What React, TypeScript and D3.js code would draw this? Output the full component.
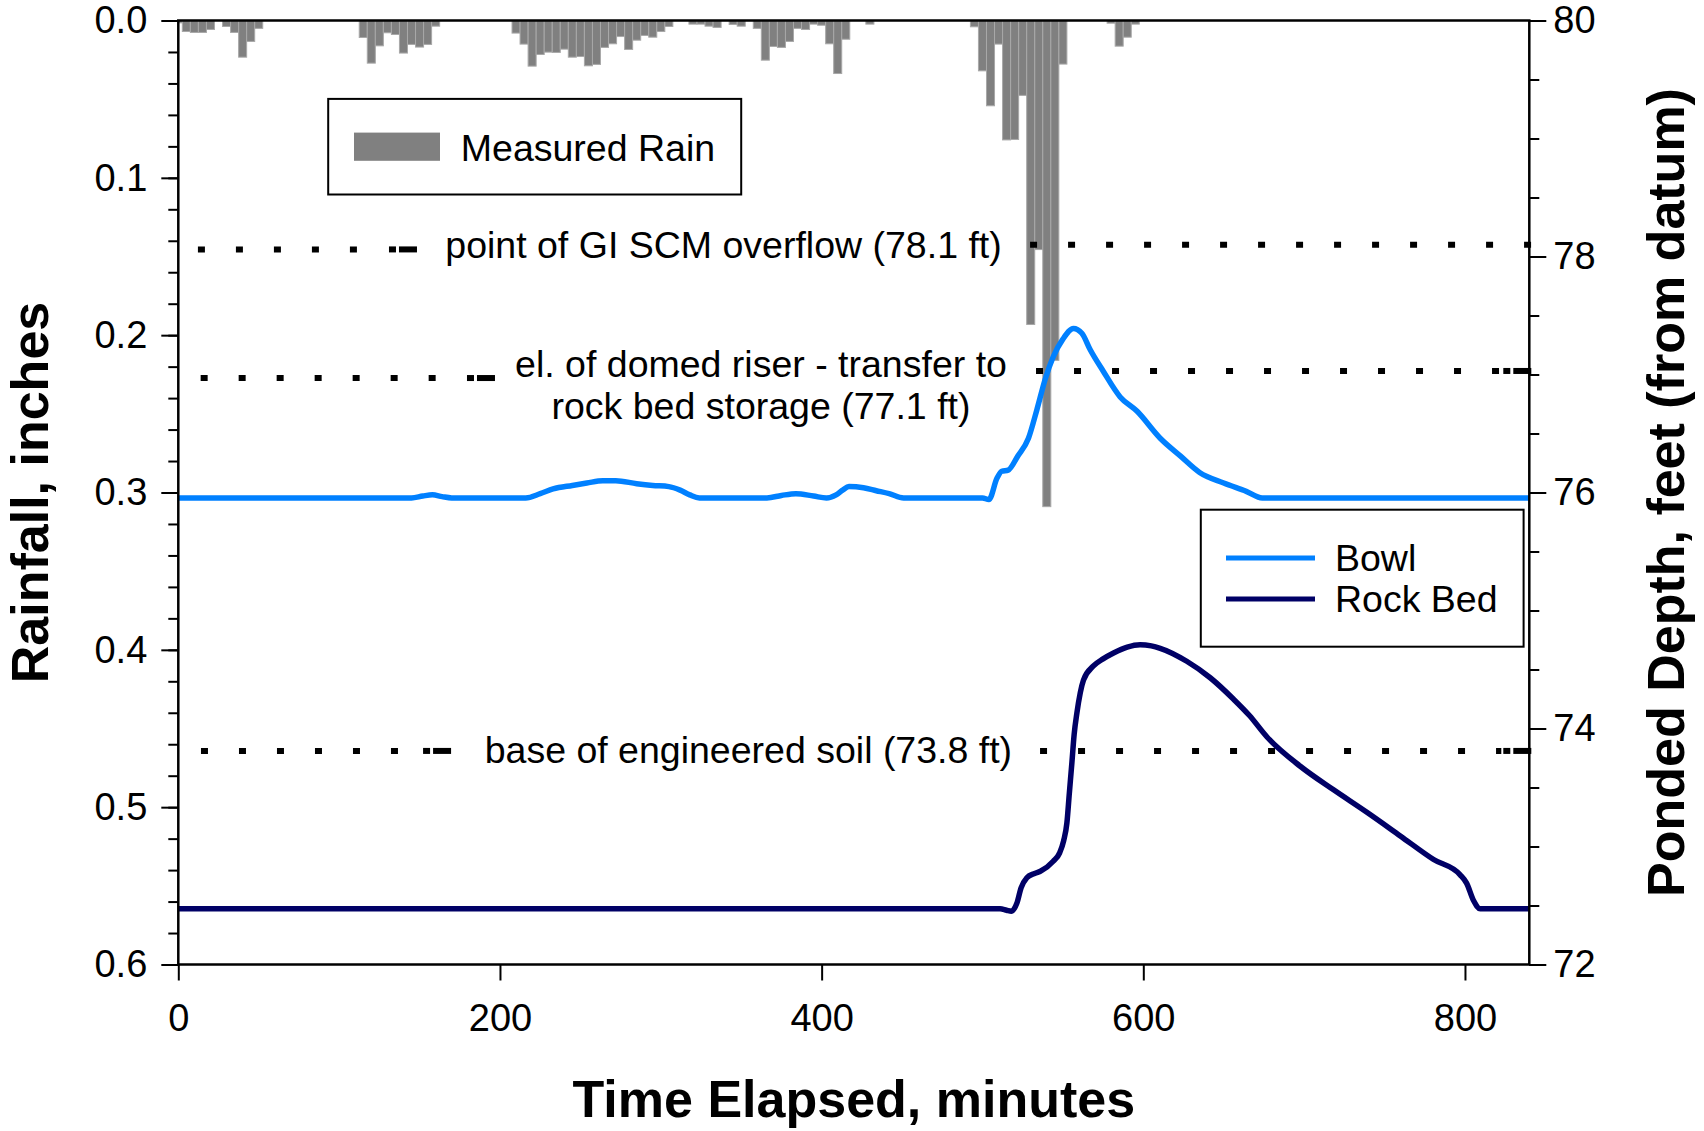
import React, { useEffect, useRef } from 'react';
import * as d3 from 'd3';

// measured rain, 5-minute bins (centre time, inches)
const rainTimes = [0, 5, 10, 15, 20, 30, 35, 40, 45, 50,
  115, 120, 125, 130, 135, 140, 145, 150, 155, 160,
  210, 215, 220, 225, 230, 235, 240, 245, 250, 255, 260, 265, 270, 275, 280, 285, 290, 295, 300, 305,
  320, 325, 330, 335, 345, 350, 360, 365, 370, 375, 380, 385, 390, 395, 400, 405, 410, 415, 430,
  495, 500, 505, 510, 515, 520, 525, 530, 535, 540, 545, 550,
  580, 585, 590, 595];
const rainDepths = [0.0015, 0.007, 0.0076, 0.0076, 0.0057, 0.0038, 0.0076, 0.0233, 0.0133, 0.005,
  0.0108, 0.0271, 0.0161, 0.0078, 0.0089, 0.0207, 0.0152, 0.0169, 0.0152, 0.0036,
  0.008, 0.015, 0.029, 0.0216, 0.0201, 0.0203, 0.0182, 0.0233, 0.0229, 0.0288, 0.0279, 0.0171, 0.0148, 0.0102, 0.0184, 0.0125, 0.0095, 0.0106, 0.007, 0.0038,
  0.0023, 0.0023, 0.0036, 0.0044, 0.0025, 0.0036, 0.005, 0.0252, 0.0165, 0.0171, 0.0133, 0.005, 0.0057, 0.0023, 0.003, 0.0148, 0.0337, 0.0119, 0.0023,
  0.004, 0.032, 0.0542, 0.015, 0.0759, 0.0756, 0.0476, 0.1932, 0.1456, 0.309, 0.216, 0.0277,
  0.0017, 0.0163, 0.0106, 0.0023];

// ponded depth, feet
const bowlTimes = [0, 145, 152, 158, 164, 170, 216, 225, 233, 245, 254, 264, 272, 285, 295, 305, 312, 318, 324,
  366, 375, 384, 395, 403, 409, 413, 417, 426, 434, 442, 451, 500, 504, 509, 512, 516, 522, 528.6, 533.8,
  539, 544, 550, 556.6, 561.8, 567, 575, 585.6, 596, 610.5, 623, 635, 650, 664, 674, 840];
const bowlDepths = [75.954, 75.954, 75.97, 75.98, 75.965, 75.954, 75.954, 75.99, 76.03, 76.06, 76.08, 76.1, 76.1, 76.075, 76.06, 76.05, 76.02, 75.98, 75.954,
  75.954, 75.975, 75.99, 75.97, 75.954, 75.98, 76.02, 76.05, 76.04, 76.015, 75.99, 75.954, 75.954, 75.94, 76.12, 76.18, 76.19, 76.31, 76.46, 76.7,
  76.96, 77.15, 77.3, 77.39, 77.35, 77.21, 77.03, 76.81, 76.69, 76.46, 76.31, 76.17, 76.08, 76.01, 75.954, 75.954];

const rockTimes = [0, 511, 515, 518, 521.4, 524, 527.6, 532, 536, 544, 548, 550.5, 552.5, 554, 555.6, 557, 558.7,
  562.8, 569, 575, 581.5, 590, 598, 605, 610.5, 627, 641.6, 656, 666, 676.8, 697.6, 718.3, 739, 759.8, 780.5,
  797, 801, 805.4, 809.5, 840];
const rockDepths = [72.472, 72.472, 72.46, 72.452, 72.52, 72.65, 72.735, 72.77, 72.79, 72.875, 72.946, 73.05, 73.2, 73.45, 73.71, 73.95, 74.13,
  74.41, 74.53, 74.59, 74.64, 74.69, 74.71, 74.7, 74.68, 74.57, 74.43, 74.25, 74.11, 73.93, 73.68, 73.48, 73.29, 73.09, 72.89,
  72.76, 72.69, 72.54, 72.472, 72.472];

const xTicks = [0, 200, 400, 600, 800];
const rainTicks = [0, 0.1, 0.2, 0.3, 0.4, 0.5, 0.6];
const depthTicks = [72, 74, 76, 78, 80];

// reference elevations (left / right part of each dotted line)
const refLeftLevel = [78.06, 76.97, 73.81];
const refRightLevel = [78.1, 77.03, 73.81];
const refLeftFrom = [12.2, 13.9, 14.1];
const refLeftTo = [148.4, 196.9, 169.6];
const refRightFrom = [529.6, 533.3, 535.8];
const refRightEndDash = [false, true, true];
const refLabels = [
  ['point of GI SCM overflow (78.1 ft)'],
  ['el. of domed riser - transfer to', 'rock bed storage (77.1 ft)'],
  ['base of engineered soil (73.8 ft)'],
];
const refLabelAt = [166, 362.3, 190.5];
const refLabelAnchor = ['start', 'middle', 'start'];
const refLabelShift = [9, -1, 12];

const FONT = 'Arial, "Liberation Sans", sans-serif';
const BOWL = '#0080ff';
const ROCK = '#000066';

function App() {
  const svgRef = useRef<SVGSVGElement>(null);

  useEffect(() => {
    const width = 1704, height = 1131;
    const left = 178.3, right = 1529.3, top = 20.5, bottom = 964.5;

    const svg = d3.select(svgRef.current)
      .attr('width', width)
      .attr('height', height);
    svg.selectAll('*').remove();

    const x = d3.scaleLinear().domain([0, 840]).range([left, right]);
    const yRain = d3.scaleLinear().domain([0, 0.6]).range([top, bottom]);
    const yDepth = d3.scaleLinear().domain([72, 80]).range([bottom, top]);

    // rain bars hanging from the top
    const bars = rainTimes.map((t, i) => ({ t, v: rainDepths[i] }));
    svg.append('g')
      .selectAll('rect')
      .data(bars)
      .join('rect')
      .attr('x', d => x(Math.max(0, d.t - 2.5)))
      .attr('width', d => x(Math.min(840, d.t + 2.5)) - x(Math.max(0, d.t - 2.5)))
      .attr('y', yRain(0))
      .attr('height', d => yRain(d.v) - yRain(0))
      .attr('fill', '#808080')
      .attr('stroke', '#a8a8a8')
      .attr('stroke-width', 1);

    // dotted reference lines
    const ref = svg.append('g');
    const dotted = (x0: number, x1: number, yy: number, endDash: boolean) => {
      const stop = endDash ? x1 - 30 : x1;
      ref.append('line')
        .attr('x1', x0).attr('x2', stop).attr('y1', yy).attr('y2', yy)
        .attr('stroke', '#000').attr('stroke-width', 6)
        .attr('stroke-dasharray', '7 31');
      if (endDash) {
        ref.append('rect').attr('x', x1 - 28).attr('y', yy - 3).attr('width', 7).attr('height', 6).attr('fill', '#000');
        ref.append('rect').attr('x', x1 - 18).attr('y', yy - 3).attr('width', 18).attr('height', 6).attr('fill', '#000');
      }
    };
    refLabels.forEach((lines, i) => {
      dotted(x(refLeftFrom[i]), x(refLeftTo[i]), yDepth(refLeftLevel[i]), true);
      dotted(x(refRightFrom[i]), x(840) + 2, yDepth(refRightLevel[i]), refRightEndDash[i]);
      const base = yDepth(refLeftLevel[i]) + refLabelShift[i];
      lines.forEach((s, j) => {
        ref.append('text')
          .attr('x', x(refLabelAt[i]))
          .attr('y', base + j * 42)
          .attr('text-anchor', refLabelAnchor[i])
          .style('font-family', FONT)
          .style('font-size', '37.5px')
          .attr('fill', '#000')
          .text(s);
      });
    });

    // depth curves
    const line = d3.line<[number, number]>()
      .x(d => x(d[0]))
      .y(d => yDepth(d[1]))
      .curve(d3.curveMonotoneX);
    svg.append('path')
      .attr('d', line(bowlTimes.map((t, i) => [t, bowlDepths[i]] as [number, number])))
      .attr('fill', 'none').attr('stroke', BOWL).attr('stroke-width', 5.5)
      .attr('stroke-linejoin', 'round');
    svg.append('path')
      .attr('d', line(rockTimes.map((t, i) => [t, rockDepths[i]] as [number, number])))
      .attr('fill', 'none').attr('stroke', ROCK).attr('stroke-width', 5.5)
      .attr('stroke-linejoin', 'round');

    // legends
    const leg1 = svg.append('g');
    leg1.append('rect').attr('x', 328.2).attr('y', 98.9).attr('width', 413).attr('height', 95.6)
      .attr('fill', '#fff').attr('stroke', '#000').attr('stroke-width', 2);
    leg1.append('rect').attr('x', 354).attr('y', 132.6).attr('width', 86).attr('height', 28.2)
      .attr('fill', '#808080');
    leg1.append('text').attr('x', 460.8).attr('y', 160.8)
      .style('font-family', FONT).style('font-size', '37.5px').text('Measured Rain');

    const leg2 = svg.append('g');
    leg2.append('rect').attr('x', 1200.8).attr('y', 509.7).attr('width', 322.8).attr('height', 137)
      .attr('fill', '#fff').attr('stroke', '#000').attr('stroke-width', 2);
    [['Bowl', BOWL, 558], ['Rock Bed', ROCK, 599]].forEach(([name, color, yy]) => {
      leg2.append('line').attr('x1', 1226).attr('x2', 1315).attr('y1', yy).attr('y2', yy)
        .attr('stroke', color as string).attr('stroke-width', 5);
      leg2.append('text').attr('x', 1335).attr('y', (yy as number) + 13)
        .style('font-family', FONT).style('font-size', '37.5px').text(name as string);
    });

    // axes
    const styleAxis = (g: any) => {
      g.select('.domain').remove();
      g.selectAll('line').attr('stroke', '#000').attr('stroke-width', 2);
      g.selectAll('text').style('font-family', FONT).style('font-size', '38px').attr('fill', '#000');
    };

    svg.append('g')
      .attr('transform', `translate(${left},0)`)
      .call(d3.axisLeft(yRain).tickValues(d3.range(0, 0.6001, 0.02)).tickSize(10).tickFormat(() => ''))
      .call(styleAxis);
    svg.append('g')
      .attr('transform', `translate(${left},0)`)
      .call(d3.axisLeft(yRain).tickValues(rainTicks).tickSize(17).tickPadding(14).tickFormat(d3.format('.1f')))
      .call(styleAxis);

    svg.append('g')
      .attr('transform', `translate(${right},0)`)
      .call(d3.axisRight(yDepth).tickValues(d3.range(72, 80.01, 0.5)).tickSize(10).tickFormat(() => ''))
      .call(styleAxis);
    svg.append('g')
      .attr('transform', `translate(${right},0)`)
      .call(d3.axisRight(yDepth).tickValues(depthTicks).tickSize(17).tickPadding(7).tickFormat(d3.format('d')))
      .call(styleAxis);

    svg.append('g')
      .attr('transform', `translate(0,${bottom})`)
      .call(d3.axisBottom(x).tickValues(xTicks).tickSize(16).tickPadding(24).tickFormat(d3.format('d')))
      .call(styleAxis);

    // frame
    svg.append('rect')
      .attr('x', left).attr('y', top)
      .attr('width', right - left).attr('height', bottom - top)
      .attr('fill', 'none').attr('stroke', '#000').attr('stroke-width', 2.5);

    // titles
    const title = (tx: number, ty: number, rot: number, s: string) => {
      svg.append('text')
        .attr('transform', `translate(${tx},${ty}) rotate(${rot})`)
        .attr('text-anchor', 'middle')
        .style('font-family', FONT).style('font-size', '52px').style('font-weight', 'bold')
        .text(s);
    };
    title((left + right) / 2, 1117, 0, 'Time Elapsed, minutes');
    title(48, (top + bottom) / 2, -90, 'Rainfall, inches');
    title(1684, (top + bottom) / 2, -90, 'Ponded Depth, feet (from datum)');
  }, []);

  return (
    <div style={{ position: 'absolute', left: 0, top: 0, background: '#fff' }}>
      <svg ref={svgRef} style={{ display: 'block' }}></svg>
    </div>
  );
}

export default App;
